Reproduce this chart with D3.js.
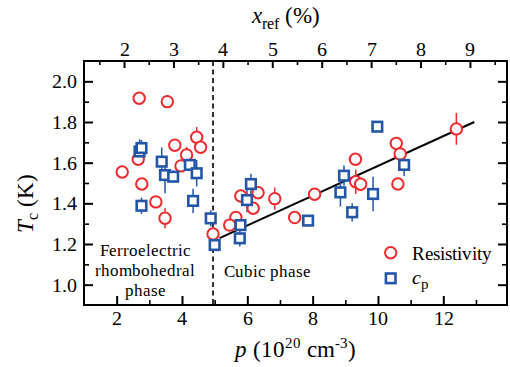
<!DOCTYPE html>
<html>
<head>
<meta charset="utf-8">
<script src="https://cdn.jsdelivr.net/npm/d3@7"></script>
<style>
  @font-face {
    font-family: "PaperSerif";
    src: local("Liberation Serif"), local("LiberationSerif"), local("LiberationSerif-Regular"), local("Times New Roman"), local("Tinos");
    font-style: normal;
    font-weight: 400;
    font-display: block;
  }
  @font-face {
    font-family: "PaperSerif";
    src: local("Liberation Serif Italic"), local("LiberationSerif-Italic"), local("Times New Roman Italic"), local("Tinos Italic");
    font-style: italic;
    font-weight: 400;
    font-display: block;
  }
</style>
</head>
<body style="margin:0;background:#fff">
<svg id="chart" width="510" height="367" style="display:block"></svg>
<script>
// Resistivity transition: hole density p (1e20 cm^-3), Tc (K), error (K)
const resP = [2.69, 3.55, 4.45, 3.78, 4.57, 4.14, 3.97, 2.66, 2.17, 2.77, 3.20, 3.48, 4.95, 5.80,
              6.33, 6.18, 6.84, 5.65, 5.46, 7.45, 8.06, 9.31, 9.32, 9.47, 10.56, 10.68, 10.61, 12.40];
const resT = [1.917, 1.900, 1.725, 1.686, 1.676, 1.638, 1.584, 1.617, 1.554, 1.495, 1.407, 1.327, 1.249, 1.436,
              1.452, 1.376, 1.423, 1.331, 1.293, 1.330, 1.445, 1.617, 1.506, 1.494, 1.695, 1.643, 1.495, 1.766];
const resErr = [0.025, 0.03, 0.05, 0, 0, 0.04, 0, 0, 0, 0, 0.02, 0.05, 0, 0.02,
                0.03, 0, 0.055, 0, 0, 0, 0, 0, 0.06, 0, 0.02, 0.04, 0.02, 0.078];

// Specific-heat transition
const cpP = [2.70, 2.76, 3.38, 3.48, 3.73, 4.24, 4.45, 2.76, 4.34, 4.88, 5.00,
             6.11, 5.99, 5.79, 5.77, 7.86, 8.96, 8.85, 9.21, 9.85, 9.98, 10.80];
const cpT = [1.655, 1.672, 1.605, 1.539, 1.531, 1.589, 1.548, 1.388, 1.412, 1.326, 1.195,
             1.495, 1.416, 1.293, 1.228, 1.315, 1.536, 1.454, 1.356, 1.446, 1.777, 1.589];
const cpErr = [0.06, 0.04, 0.07, 0.09, 0.03, 0.03, 0.065, 0.04, 0.06, 0.04, 0.02,
               0.05, 0.06, 0.03, 0.04, 0, 0.05, 0.07, 0.045, 0.085, 0, 0.055];

// Linear trend in the cubic phase
const fitP = [5.15, 12.95];
const fitT = [1.229, 1.800];

// Ferroelectric / cubic boundary
const boundaryP = 4.95;

// Axis ticks
const pMajor = [2, 4, 6, 8, 10, 12];
const pMinor = [3, 5, 7, 9, 11, 13];
const tMajor = [1.0, 1.2, 1.4, 1.6, 1.8, 2.0];
const tMinor = [1.1, 1.3, 1.5, 1.7, 1.9];
const xrefMajor = [2, 3, 4, 5, 6, 7, 8, 9];
const xrefMinor = [1.5, 2.5, 3.5, 4.5, 5.5, 6.5, 7.5, 8.5, 9.5];

const RED = "#ee2a2e", BLUE = "#2456a8";
const SERIF = "PaperSerif, Liberation Serif, Times New Roman, Tinos";
const L = 84, R = 507, T = 61, B = 305;

const svg = d3.select("#chart");
const x = d3.scaleLinear().domain([1, 13.95]).range([L, R]);
const xTop = d3.scaleLinear().domain([1.19, 9.75]).range([L, R]);
const y = d3.scaleLinear().domain([0.9, 2.1]).range([B, T]);

function styleAxis(g, w) {
  g.attr("font-family", SERIF);
  g.select(".domain").remove();
  g.selectAll(".tick line").attr("stroke", "#000").attr("stroke-width", w);
  g.selectAll("text").attr("fill", "#000").attr("font-size", 20);
}

// bottom axis
svg.append("g").attr("transform", `translate(0,${B})`)
  .call(d3.axisBottom(x).tickValues(pMinor).tickSize(-5).tickFormat(""))
  .call(g => styleAxis(g, 1.6));
svg.append("g").attr("transform", `translate(0,${B})`)
  .call(d3.axisBottom(x).tickValues(pMajor).tickSize(-9).tickPadding(6).tickFormat(d3.format("d")))
  .call(g => styleAxis(g, 2));

// top axis
svg.append("g").attr("transform", `translate(0,${T})`)
  .call(d3.axisTop(xTop).tickValues(xrefMinor.filter(v => xTop(v) < R - 2)).tickSize(-4).tickFormat(""))
  .call(g => styleAxis(g, 1.6));
svg.append("g").attr("transform", `translate(0,${T})`)
  .call(d3.axisTop(xTop).tickValues(xrefMajor).tickSize(-7).tickPadding(5).tickFormat(d3.format("d")))
  .call(g => styleAxis(g, 2));

// left axis
svg.append("g").attr("transform", `translate(${L},0)`)
  .call(d3.axisLeft(y).tickValues(tMinor).tickSize(-5).tickFormat(""))
  .call(g => styleAxis(g, 1.6));
svg.append("g").attr("transform", `translate(${L},0)`)
  .call(d3.axisLeft(y).tickValues(tMajor).tickSize(-9).tickPadding(7).tickFormat(d3.format(".1f")))
  .call(g => styleAxis(g, 2));

// right axis
svg.append("g").attr("transform", `translate(${R},0)`)
  .call(d3.axisRight(y).tickValues(tMinor).tickSize(-5).tickFormat(""))
  .call(g => styleAxis(g, 1.6));
svg.append("g").attr("transform", `translate(${R},0)`)
  .call(d3.axisRight(y).tickValues(tMajor).tickSize(-9).tickFormat(""))
  .call(g => styleAxis(g, 2));

// frame
svg.append("rect").attr("x", L).attr("y", T).attr("width", R - L).attr("height", B - T)
  .attr("fill", "none").attr("stroke", "#000").attr("stroke-width", 2);

// phase boundary
svg.append("line")
  .attr("x1", x(boundaryP)).attr("x2", x(boundaryP)).attr("y1", T).attr("y2", B)
  .attr("stroke", "#000").attr("stroke-width", 1.6).attr("stroke-dasharray", "5,3.5");

// trend line
svg.append("path")
  .datum(d3.zip(fitP, fitT))
  .attr("d", d3.line().x(d => x(d[0])).y(d => y(d[1])))
  .attr("fill", "none").attr("stroke", "#000").attr("stroke-width", 2);

const res = d3.range(resP.length).map(i => ({ p: resP[i], t: resT[i], e: resErr[i] }));
const cp = d3.range(cpP.length).map(i => ({ p: cpP[i], t: cpT[i], e: cpErr[i] }));

// error bars
function errBars(data, color) {
  svg.append("g").selectAll("line").data(data.filter(d => d.e > 0)).join("line")
    .attr("x1", d => x(d.p)).attr("x2", d => x(d.p))
    .attr("y1", d => y(d.t - d.e)).attr("y2", d => y(d.t + d.e))
    .attr("stroke", color).attr("stroke-width", 1.5);
}
errBars(res, RED);
errBars(cp, BLUE);

// resistivity markers
svg.append("g").selectAll("circle").data(res).join("circle")
  .attr("cx", d => x(d.p)).attr("cy", d => y(d.t)).attr("r", 5.7)
  .attr("fill", "#fff").attr("stroke", RED).attr("stroke-width", 2);

// specific heat markers
const S = 9.6;
svg.append("g").selectAll("rect").data(cp).join("rect")
  .attr("x", d => x(d.p) - S / 2).attr("y", d => y(d.t) - S / 2)
  .attr("width", S).attr("height", S)
  .attr("fill", "#fff").attr("stroke", BLUE).attr("stroke-width", 2.6);

// phase labels
const phase = svg.append("g").attr("font-size", 17).attr("fill", "#000").attr("text-anchor", "middle");
[["Ferroelectric", 256], ["rhombohedral", 276], ["phase", 296]].forEach(([s, yy]) =>
  phase.append("text").attr("x", 145).attr("y", yy).text(s));
svg.append("text").attr("x", 224).attr("y", 277).attr("font-size", 17).text("Cubic phase");

// legend
svg.append("circle").attr("cx", 390.7).attr("cy", 252.7).attr("r", 5.7)
  .attr("fill", "#fff").attr("stroke", RED).attr("stroke-width", 2);
svg.append("text").attr("x", 411.5).attr("y", 259.5).attr("font-size", 19).text("Resistivity");
svg.append("rect").attr("x", 390.7 - S / 2).attr("y", 278.3 - S / 2).attr("width", S).attr("height", S)
  .attr("fill", "#fff").attr("stroke", BLUE).attr("stroke-width", 2.6);
const cpLab = svg.append("text").attr("x", 411.5).attr("y", 284).attr("font-size", 20);
cpLab.append("tspan").attr("font-style", "italic").text("c");
cpLab.append("tspan").attr("font-size", 15).attr("dy", 5).text("p");

// axis titles
const xt = svg.append("text").attr("x", 295).attr("y", 357).attr("text-anchor", "middle").attr("font-size", 23);
xt.append("tspan").attr("font-style", "italic").text("p");
xt.append("tspan").text(" (10");
xt.append("tspan").attr("font-size", 15).attr("dy", -9).text("20");
xt.append("tspan").attr("dy", 9).text(" cm");
xt.append("tspan").attr("font-size", 15).attr("dy", -9).text("-3");
xt.append("tspan").attr("dy", 9).text(")");

const tt = svg.append("text").attr("x", 286).attr("y", 23).attr("text-anchor", "middle").attr("font-size", 23);
tt.append("tspan").attr("font-style", "italic").text("x");
tt.append("tspan").attr("font-size", 16).attr("dy", 6).text("ref");
tt.append("tspan").attr("dy", -6).text(" (%)");

const yt = svg.append("text").attr("transform", "translate(33,203) rotate(-90)")
  .attr("text-anchor", "middle").attr("font-size", 23);
yt.append("tspan").attr("font-style", "italic").text("T");
yt.append("tspan").attr("font-size", 16).attr("dy", 5).text("c");
yt.append("tspan").attr("dy", -5).text(" (K)");

// serif typeface for every label and sub/superscript
svg.selectAll("text, tspan").attr("font-family", SERIF);
if (document.fonts && document.fonts.load) {
  document.fonts.load("20px PaperSerif");
  document.fonts.load("italic 20px PaperSerif");
}
</script>
</body>
</html>
